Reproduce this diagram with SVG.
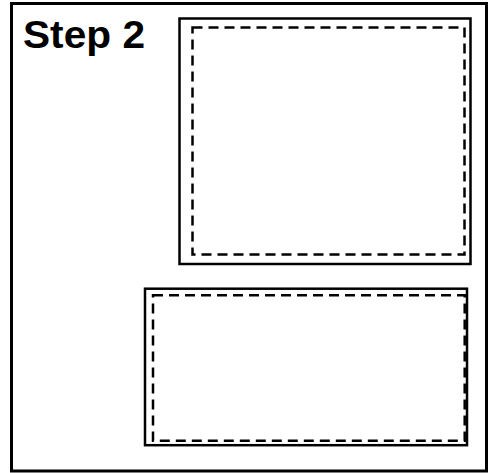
<svg xmlns="http://www.w3.org/2000/svg" width="489" height="473" viewBox="0 0 489 473">
<style>
.frame{fill:#fff;stroke:#000;stroke-width:3}
.box{fill:none;stroke:#000;stroke-width:2.5}
.dash{fill:none;stroke:#000;stroke-width:2.5;stroke-dasharray:10 6}
.lbl{font-family:"Liberation Sans",Arial,sans-serif;font-weight:bold;font-size:38px;fill:#000}
</style>
<rect x="0" y="0" width="489" height="473" fill="#fff"/>
<g id="frame">
<rect class="frame" x="11.5" y="3.5" width="475" height="467.5"/>
<text class="lbl" x="23" y="48" textLength="122" lengthAdjust="spacingAndGlyphs">Step 2</text>
</g>
<g id="box-top">
<rect class="box" x="179.5" y="18.5" width="291" height="245.5"/>
<rect class="dash" x="192.5" y="27.5" width="272" height="227"/>
</g>
<g id="box-bottom">
<rect class="box" x="145" y="288.7" width="322" height="156.5"/>
<rect class="dash" x="153" y="295.3" width="311.7" height="145.4"/>
</g>
<g id="connectors"></g>
</svg>
